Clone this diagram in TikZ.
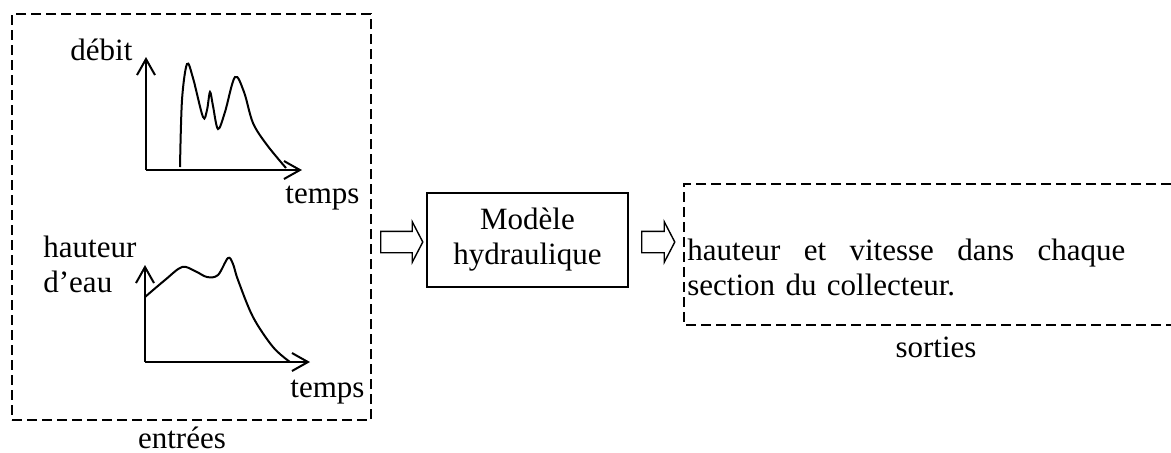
\documentclass[tikz,border=0pt]{standalone}
\usepackage{fontspec}
\setmainfont{Liberation Serif}
\usetikzlibrary{arrows.meta,shapes.arrows,positioning}

\begin{document}
\begin{tikzpicture}[x=0.5pt, y=-0.5pt,
    label_style/.style={font=\fontsize{15.5}{17.5}\selectfont, inner sep=0pt},
    frame_style/.style={draw, line width=0.7pt, dash pattern=on 5pt off 2.5pt},
    axis_style/.style={line width=1pt, -{Straight Barb[length=8pt, width=9pt, line width=1pt]}},
    curve_style/.style={line width=1pt, smooth, tension=0.55},
    flow_style/.style={single arrow, draw, line width=0.7pt, inner xsep=0pt, inner ysep=5pt,
        minimum height=21pt, single arrow head extend=4.75pt, single arrow tip angle=125}]

	\useasboundingbox (0,0) rectangle (1171,452);

	% entrees
	\node[frame_style, minimum width=179.5pt, minimum height=203pt] (inputs) at (191.5,217) {};
	\node[label_style, anchor=base] (inputs_lbl) at (182,448) {entrées};

	% debit
	\coordinate (o1) at (146,170);
	\coordinate (y1) at (146,57);
	\coordinate (x1) at (302,170);
	\draw[axis_style] (o1) -- (y1);
	\draw[axis_style] (o1) -- (x1);
	\draw[curve_style] plot coordinates {(180,167) (182,100) (187,64) (193,78) (203,117) (207,110) (210,92) (213,106) (218,129) (225,112) (235,77) (244,92) (253,123) (267,145) (286,168)};
	\node[label_style, anchor=base west] (flow_lbl) at (70,60) {débit};
	\node[label_style, anchor=base west] (time_lbl1) at (285,203) {temps};

	% hauteur d'eau
	\coordinate (o2) at (145,362);
	\coordinate (y2) at (145,265);
	\coordinate (x2) at (310,362);
	\draw[axis_style] (o2) -- (y2);
	\draw[axis_style] (o2) -- (x2);
	\draw[curve_style] plot coordinates {(145,297) (165,280) (182,267) (195,271) (207,277) (218,275) (228,258) (233,264) (238,280) (253,317) (273,347) (290,362)};
	\node[label_style, anchor=base west, align=left] (depth_lbl) at (43,292) {hauteur\\d’eau};
	\node[label_style, anchor=base west] (time_lbl2) at (290,397) {temps};

	% modele
	\node[flow_style] (flow_in) at (399,242) {};
	\node[label_style, draw, line width=1pt, minimum width=100.5pt, minimum height=47pt, align=center] (model) at (527.5,240) {Modèle\\hydraulique};
	\node[flow_style, minimum height=16.5pt] (flow_out) at (655.5,242) {};

	% sorties
	\draw[frame_style] (1171,184) -- (684,184) -- (684,325) -- (1171,325);
	\node[label_style, text width=219pt, align=left, anchor=base west] (outputs) at (687,260)
		{\hbox to 219pt{hauteur\hfill et\hfill vitesse\hfill dans\hfill chaque}\\section du collecteur.};
	\node[label_style, anchor=base] (outputs_lbl) at (936,357) {sorties};
\end{tikzpicture}
\end{document}
